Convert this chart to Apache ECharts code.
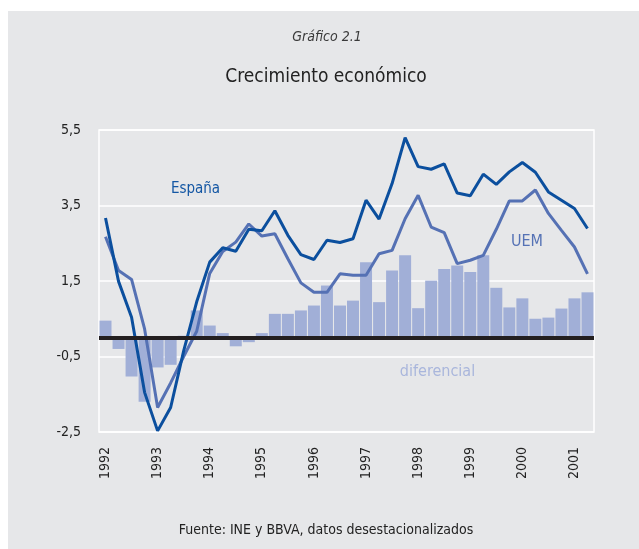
<!DOCTYPE html>
<html>
<head>
<meta charset="utf-8">
<script src="https://cdn.jsdelivr.net/npm/echarts@6/dist/echarts.min.js"></script>
<style>
html,body{margin:0;padding:0;background:#fff;}
#chart{width:639px;height:549px;}
</style>
</head>
<body>
<div id="chart"></div>
<script>
// Quarterly categories 1992-I .. 2001-II
const quarters = [
  '1992-I','1992-II','1992-III','1992-IV',
  '1993-I','1993-II','1993-III','1993-IV',
  '1994-I','1994-II','1994-III','1994-IV',
  '1995-I','1995-II','1995-III','1995-IV',
  '1996-I','1996-II','1996-III','1996-IV',
  '1997-I','1997-II','1997-III','1997-IV',
  '1998-I','1998-II','1998-III','1998-IV',
  '1999-I','1999-II','1999-III','1999-IV',
  '2000-I','2000-II','2000-III','2000-IV',
  '2001-I','2001-II'
];
const espana = [3.17,1.49,0.54,-1.45,-2.47,-1.85,-0.35,0.95,2.00,2.38,2.29,2.87,2.83,3.36,2.71,2.20,2.07,2.58,2.52,2.62,3.64,3.14,4.08,5.30,4.53,4.46,4.60,3.83,3.76,4.33,4.06,4.39,4.64,4.38,3.86,3.64,3.42,2.89];
const uem = [2.67,1.78,1.54,0.23,-1.85,-1.20,-0.50,0.17,1.70,2.28,2.53,3.01,2.69,2.75,2.09,1.45,1.20,1.20,1.69,1.65,1.65,2.22,2.31,3.15,3.77,2.93,2.78,1.96,2.05,2.18,2.87,3.62,3.62,3.91,3.29,2.84,2.40,1.69];
const diferencial = [0.45,-0.30,-1.03,-1.70,-0.79,-0.72,0.05,0.72,0.32,0.12,-0.23,-0.12,0.12,0.63,0.63,0.72,0.85,1.38,0.85,0.98,2.00,0.94,1.78,2.18,0.78,1.51,1.82,1.91,1.74,2.18,1.32,0.80,1.04,0.50,0.53,0.77,1.04,1.20];
const yMin = -2.5, yMax = 5.5, yStep = 2;

const FONT = '"DejaVu Sans Condensed", "Liberation Sans Narrow", sans-serif';
const chart = echarts.init(document.getElementById('chart'), null, {renderer:'canvas'});
chart.setOption({
  animation: false,
  backgroundColor: '#ffffff',
  graphic: [
    {type:'rect', z:-100, silent:true, shape:{x:8,y:11,width:640,height:540}, style:{fill:'#e6e7e9'}},
    {type:'text', style:{text:'Gráfico 2.1', x:327, y:37, align:'center', verticalAlign:'middle', fill:'#3a3a3a', font:'italic 14px ' + FONT}},
    {type:'text', style:{text:'Crecimiento económico', x:326, y:77, align:'center', verticalAlign:'middle', fill:'#222', font:'19px ' + FONT}},
    {type:'text', style:{text:'Fuente: INE y BBVA, datos desestacionalizados', x:326, y:530, align:'center', verticalAlign:'middle', fill:'#222', font:'14px ' + FONT}},
    {type:'text', z:100, style:{text:'España', x:195.5, y:189, align:'center', verticalAlign:'middle', fill:'#1457a4', font:'15px ' + FONT}},
    {type:'text', z:100, style:{text:'UEM', x:527, y:241.5, align:'center', verticalAlign:'middle', fill:'#5572b5', font:'16px ' + FONT}},
    {type:'text', z:100, style:{text:'diferencial', x:437.5, y:372, align:'center', verticalAlign:'middle', fill:'#a9b6dc', font:'16px ' + FONT}}
  ],
  grid: {left:99, right:45, top:130, bottom:117, show:true, borderColor:'#ffffff', borderWidth:1.5, backgroundColor:'transparent'},
  xAxis: {
    type:'category', data: quarters, boundaryGap:true,
    axisLine:{show:false}, axisTick:{show:false}, splitLine:{show:false},
    axisLabel:{interval:3, rotate:90, margin:15, color:'#222', fontFamily:FONT, fontSize:14,
      formatter: v => v.slice(0,4)}
  },
  yAxis: {
    type:'value', min:yMin, max:yMax, interval:yStep,
    axisLine:{show:false}, axisTick:{show:false},
    splitLine:{show:true, lineStyle:{color:'#ffffff', width:1.5}},
    axisLabel:{margin:18, color:'#222', fontFamily:FONT, fontSize:14,
      formatter: v => v.toFixed(1).replace('.', ',')}
  },
  series: [
    {type:'bar', name:'diferencial', data: diferencial, barCategoryGap:'8%',
     itemStyle:{color:'#a1afd7'}, z:2,
     markLine:{silent:true, symbol:['none','none'], label:{show:false},
       lineStyle:{color:'#231f20', width:4, type:'solid'}, data:[{yAxis:0}]}},
    {type:'line', name:'UEM', data: uem, showSymbol:false, symbol:'none', z:3,
     lineStyle:{color:'#5571b4', width:3}},
    {type:'line', name:'España', data: espana, showSymbol:false, symbol:'none', z:4,
     lineStyle:{color:'#0b4f9e', width:3}}
  ]
});
</script>
</body>
</html>
